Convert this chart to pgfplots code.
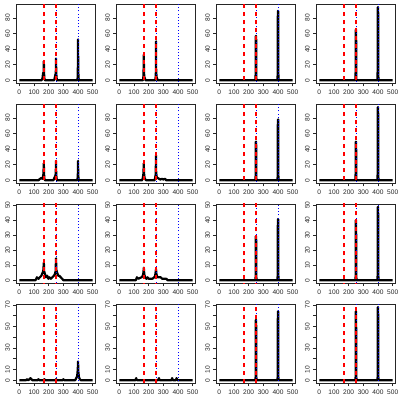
\documentclass[border=0pt]{standalone}
\usepackage{fontspec}
\setmainfont{Liberation Sans}
\usepackage{pgfplots}
\pgfplotsset{compat=1.18}
\usepgfplotslibrary{groupplots}
\usetikzlibrary{calc}

% reference lines drawn in every panel
\newcommand{\vlines}{%
  \addplot[blue, line width=0.9pt, dash pattern=on 1pt off 2.2pt] coordinates {(250,-10) (250,120)};
  \addplot[blue, line width=0.9pt, dash pattern=on 1pt off 2.2pt] coordinates {(400,-10) (400,120)};
  \addplot[red, line width=1.7pt, dash pattern=on 4.5pt off 3.5pt] coordinates {(167,-10) (167,120)};
  \addplot[red, line width=1.7pt, dash pattern=on 4.5pt off 3.5pt] coordinates {(250,-10) (250,120)};
}

\pgfplotsset{
  spec/.style={black, line width=2.2pt, line join=round, line cap=butt},
  rowA/.style={ymin=-3.76, ymax=97.9, ytick={0,20,40,60,80}},
  rowC/.style={ymin=-1.95, ymax=50.75, ytick={0,10,20,30,40,50}},
  rowD/.style={ymin=-2.73, ymax=70.9, ytick={0,10,20,30,40,50,60,70},
               yticklabels={0,10,{},30,{},50,{},70}},
}

\begin{document}
\begin{tikzpicture}
\begin{groupplot}[
  group style={group size=4 by 4, horizontal sep=20.7pt, vertical sep=20.7pt},
  scale only axis, width=79.3pt, height=79.3pt,
  xmin=-20, xmax=520,
  xtick={0,100,200,300,400,500},
  tick align=outside, major tick length=3pt,
  xtick pos=left, ytick pos=left,
  axis line style={line width=0.6pt, black!85},
  tick style={line width=0.6pt, black!85},
  tick label style={font=\fontsize{6.6}{7}\selectfont, text=black!85},
  /pgf/number format/assume math mode=true,
  yticklabel style={rotate=90, anchor=south},
  xticklabel style={anchor=north},
  no markers,
]
% ---- row 1
\nextgroupplot[rowA]
\addplot[spec] coordinates {(0,0) (150,0) (155,1) (158,3) (161,8) (163,10) (165,6) (166,15) (167,24.7) (168,12) (170,3) (173,1) (176,0)
  (236,0) (240,2) (243,5) (246,8) (248,6) (249,15) (250,28) (251,14) (253,4) (256,1) (260,0)
  (394,0) (397,3) (399,20) (400,52.5) (401,18) (403,3) (406,0) (500,0)};
\vlines
\nextgroupplot[rowA]
\addplot[spec] coordinates {(0,0) (160,0) (163,2) (165,8) (167,33) (168,10) (171,4) (175,2) (180,0)
  (244,0) (247,3) (249,10) (250,50) (251,12) (254,4) (258,2) (262,0) (500,0)};
\vlines
\nextgroupplot[rowA]
\addplot[spec] coordinates {(0,0) (247,0) (248,20) (249,57) (251,57) (252,10) (253,0)
  (397,0) (398,30) (399,89) (401,89) (402,20) (403,0) (500,0)};
\vlines
\nextgroupplot[rowA]
\addplot[spec] coordinates {(0,0) (247,0) (248,20) (249,65) (251,65) (252,10) (253,0)
  (397,0) (398,30) (399,94) (401,94) (402,20) (403,0) (500,0)};
\vlines
% ---- row 2
\nextgroupplot[rowA]
\addplot[spec] coordinates {(0,0) (130,0) (135,1) (142,2) (150,3) (156,2) (160,4) (164,8) (167,22) (168,9) (171,2) (175,0)
  (232,0) (236,2) (241,4) (245,6) (248,8) (250,25) (251,8) (254,2) (258,0)
  (394,0) (397,3) (399,10) (400,25) (401,9) (403,2) (406,0) (500,0)};
\vlines
\nextgroupplot[rowA]
\addplot[spec] coordinates {(0,0) (155,0) (160,3) (164,8) (167,22) (168,10) (172,3) (178,1) (184,0)
  (240,0) (244,3) (248,8) (250,32) (251,10) (255,4) (262,3) (270,2) (280,1) (290,2) (300,1) (312,2) (320,0) (500,0)};
\vlines
\nextgroupplot[rowA]
\addplot[spec] coordinates {(0,0) (247,0) (248,15) (249,49.5) (251,49.5) (252,10) (253,0)
  (397,0) (398,20) (399,78) (401,78) (402,15) (403,0) (500,0)};
\vlines
\nextgroupplot[rowA]
\addplot[spec] coordinates {(0,0) (247,0) (248,15) (249,49.5) (251,49.5) (252,10) (253,0)
  (397,0) (398,20) (399,94) (401,94) (402,15) (403,0) (500,0)};
\vlines
% ---- row 3
\nextgroupplot[rowC]
\addplot[spec] coordinates {(0,0) (110,0) (120,2) (130,1) (140,2) (150,3) (158,5) (163,6) (167,11.7) (169,6) (175,4) (182,2) (190,3) (198,1) (205,2) (215,1)
  (225,2) (235,3) (242,4) (247,6) (250,14.6) (252,7) (258,5) (265,3) (272,3) (282,2) (292,1) (300,0) (500,0)};
\vlines
\nextgroupplot[rowC]
\addplot[spec] coordinates {(0,0) (112,0) (120,2) (130,1) (140,1.5) (152,2) (160,3) (164,5) (167,8.4) (170,4) (176,2) (185,1) (192,2) (200,1) (210,1)
  (225,1) (238,2) (244,3) (247,5) (250,7.5) (253,4) (260,2) (270,2) (282,2) (292,1) (305,1) (320,1) (330,0) (500,0)};
\vlines
\nextgroupplot[rowC]
\addplot[spec] coordinates {(0,0) (246,0) (248,3) (249,29.4) (251,29.4) (252,3) (254,0)
  (396,0) (398,4) (399,40.7) (401,40.7) (402,4) (404,0) (500,0)};
\vlines
\nextgroupplot[rowC]
\addplot[spec] coordinates {(0,0) (246,0) (248,3) (249,40) (251,40) (252,3) (254,0)
  (396,0) (398,4) (399,48.8) (401,48.8) (402,4) (404,0) (500,0)};
\vlines
% ---- row 4
\nextgroupplot[rowD]
\addplot[spec] coordinates {(0,0) (45,0) (52,1) (60,0) (70,1) (76,2) (82,1) (90,0) (125,0) (130,1) (136,0)
  (165,0) (170,1) (176,0) (245,0) (250,1) (256,0) (295,0) (300,1) (306,0)
  (380,0) (388,2) (394,4) (398,10) (400,17.5) (402,8) (406,3) (412,1) (420,0) (500,0)};
\vlines
\nextgroupplot[rowD]
\addplot[spec] coordinates {(0,0) (110,0) (115,2) (120,0) (265,0) (270,2) (275,0)
  (355,0) (360,2) (365,0) (385,0) (390,2) (395,0) (500,0)};
\vlines
\nextgroupplot[rowD]
\addplot[spec] coordinates {(0,0) (246,0) (248,4) (249,56) (251,56) (252,4) (254,0)
  (396,0) (398,4) (399,64) (401,64) (402,4) (404,0) (500,0)};
\vlines
\nextgroupplot[rowD]
\addplot[spec] coordinates {(0,0) (246,0) (248,4) (249,64) (251,64) (252,4) (254,0)
  (396,0) (398,4) (399,68) (401,68) (402,4) (404,0) (500,0)};
\vlines
\end{groupplot}
\pgfresetboundingbox
\path[use as bounding box] ($(group c1r1.north west)+(-16.4pt,4pt)$) rectangle ($(group c4r4.south east)+(4.4pt,-16.7pt)$);
\end{tikzpicture}
\end{document}
